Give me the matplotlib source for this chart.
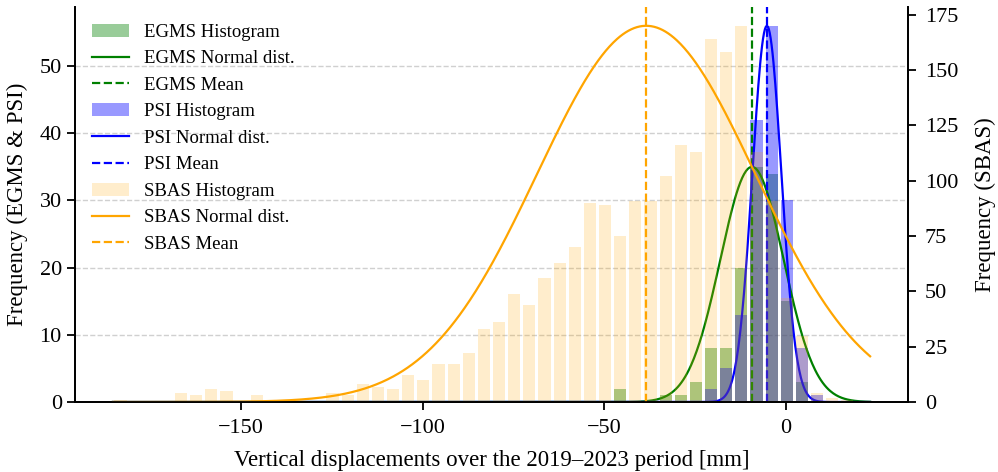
import numpy as np
import matplotlib
matplotlib.use("Agg")
import matplotlib.pyplot as plt
from matplotlib.patches import Patch
from matplotlib.lines import Line2D

plt.rcParams["font.family"] = ["Liberation Serif", "DejaVu Serif"]

# Common histogram bin range [mm] and number of bins
bin_min = -185.2
bin_max = 23.1
n_bins = 50

# Counts per bin (bin index 0 = leftmost)
egms_counts = {33: 2, 36: 1, 37: 1, 38: 3, 39: 8, 40: 8, 41: 20, 42: 35,
               43: 34, 44: 15, 45: 3}
psi_counts = {39: 2, 40: 5, 41: 13, 42: 42, 43: 56, 44: 30, 45: 8, 46: 1}
sbas_counts = [1, 0, 0, 0, 4, 3, 6, 5, 0, 3,
               0, 0, 0, 0, 4, 3, 8, 7, 6, 12,
               10, 17, 17, 22, 33, 36, 49, 44, 56, 63,
               70, 90, 89, 75, 91, 91, 102, 116, 113, 164,
               158, 170, 113, 91, 47, 30, 4, 2, 1, 0]

# Mean and standard deviation of each dataset [mm]
egms_mean, egms_std = -9.4, 8.7
psi_mean, psi_std = -5.3, 4.0
sbas_mean, sbas_std = -38.5, 30.0

edges = np.linspace(bin_min, bin_max, n_bins + 1)
centers = 0.5 * (edges[:-1] + edges[1:])
bw = edges[1] - edges[0]


def dense(d):
    arr = np.zeros(n_bins)
    for k, v in d.items():
        arr[k] = v
    return arr


egms = dense(egms_counts)
psi = dense(psi_counts)
sbas = np.asarray(sbas_counts, dtype=float)

fig = plt.figure(figsize=(9.98, 4.72), dpi=100)
ax1 = fig.add_axes([0.0752, 0.1483, 0.8346, 0.8369])
ax2 = ax1.twinx()

xs = np.linspace(bin_min, bin_max, 800)


def normal_curve(mu, sd, peak):
    return peak * np.exp(-0.5 * ((xs - mu) / sd) ** 2)


lw_curve = 1.6
lw_mean = 1.6
rw = 0.8

ax1.bar(centers, egms, width=bw * rw, color="green", alpha=0.4)
ax1.plot(xs, normal_curve(egms_mean, egms_std, egms.max()), color="green", lw=lw_curve)
ax1.axvline(egms_mean, color="green", ls="--", lw=lw_mean)

ax1.bar(centers, psi, width=bw * rw, color="blue", alpha=0.4)
ax1.plot(xs, normal_curve(psi_mean, psi_std, psi.max()), color="blue", lw=lw_curve)
ax1.axvline(psi_mean, color="blue", ls="--", lw=lw_mean)

ax2.bar(centers, sbas, width=bw * rw, color="orange", alpha=0.2)
ax2.plot(xs, normal_curve(sbas_mean, sbas_std, sbas.max()), color="orange", lw=lw_curve)
ax2.axvline(sbas_mean, color="orange", ls="--", lw=lw_mean)

ax1.set_xlim(bin_min - 0.05 * (bin_max - bin_min), bin_max + 0.05 * (bin_max - bin_min))
ax1.set_ylim(0, psi.max() * 1.05)
ax2.set_ylim(0, sbas.max() * 1.05)

ax1.set_xticks([-150, -100, -50, 0])
ax1.set_yticks([0, 10, 20, 30, 40, 50])
ax2.set_yticks([0, 25, 50, 75, 100, 125, 150, 175])

ax1.yaxis.grid(True, ls="--", color="#d0d0d0", lw=1.0)
ax1.set_axisbelow(True)

for ax in (ax1, ax2):
    ax.spines["top"].set_visible(False)
    for s in ax.spines.values():
        s.set_linewidth(1.3)
    ax.tick_params(labelsize=16, length=6, width=1.3)
ax1.tick_params(axis="x", pad=6)
ax2.tick_params(axis="y", pad=6)

ax1.set_xlabel("Vertical displacements over the 2019–2023 period [mm]",
               fontsize=16.5, labelpad=9)
ax1.set_ylabel("Frequency (EGMS & PSI)", fontsize=16.5, labelpad=8)
ax2.set_ylabel("Frequency (SBAS)", fontsize=16.5, labelpad=12)

handles = [
    Patch(facecolor="green", alpha=0.4), Line2D([], [], color="green", lw=lw_curve),
    Line2D([], [], color="green", ls="--", lw=lw_mean),
    Patch(facecolor="blue", alpha=0.4), Line2D([], [], color="blue", lw=lw_curve),
    Line2D([], [], color="blue", ls="--", lw=lw_mean),
    Patch(facecolor="orange", alpha=0.2), Line2D([], [], color="orange", lw=lw_curve),
    Line2D([], [], color="orange", ls="--", lw=lw_mean),
]
labels = ["EGMS Histogram", "EGMS Normal dist.", "EGMS Mean",
          "PSI Histogram", "PSI Normal dist.", "PSI Mean",
          "SBAS Histogram", "SBAS Normal dist.", "SBAS Mean"]
ax2.legend(handles, labels, loc="upper left", frameon=False, fontsize=13.5)

fig.savefig("out.png", dpi=100)
